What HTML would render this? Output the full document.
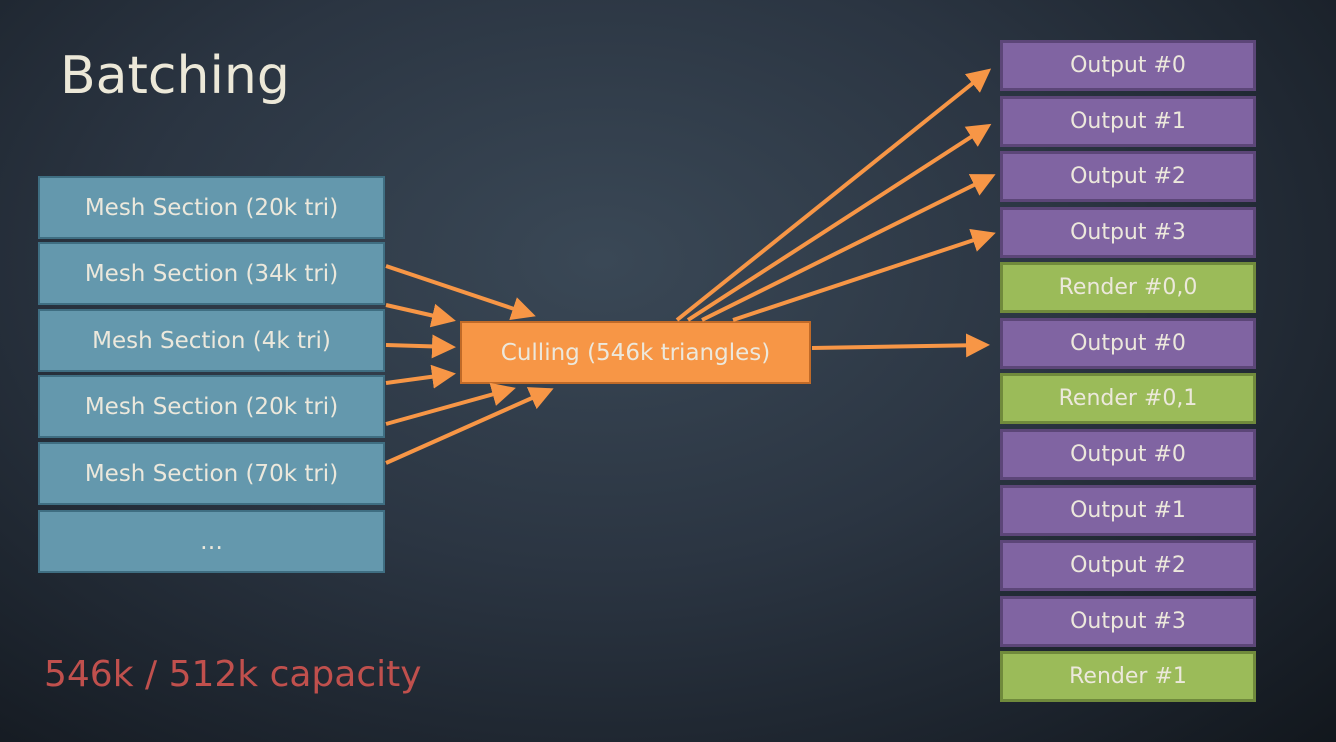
<!DOCTYPE html>
<html><head><style>
body{margin:0;width:1336px;height:742px;overflow:hidden;background:radial-gradient(ellipse at 45% 35%,#3a4856 0%,#2b3542 45%,#1b222b 80%,#12171d 100%);font-family:"DejaVu Sans","Liberation Sans",sans-serif;position:relative}
.b{position:absolute;box-sizing:border-box;color:#ece8dc;display:flex;align-items:center;justify-content:center;font-size:22px}
.m{left:38px;width:347px;height:63px;background:#6498ad;border:2px solid #3f6e82;font-size:23px}
.o{left:1000px;width:256px;height:51px;background:#8064a2;border:3px solid #5c4678}
.g{left:1000px;width:256px;height:51px;background:#9bbb59;border:3px solid #708a3c}
</style></head><body>
<div style="position:absolute;left:60px;top:46px;font-size:52px;color:#ece8d8">Batching</div>
<div style="position:absolute;left:44px;top:654px;font-size:36px;color:#c0504d">546k / 512k capacity</div>
<div class="b m" style="top:176px">Mesh Section (20k tri)</div>
<div class="b m" style="top:242px">Mesh Section (34k tri)</div>
<div class="b m" style="top:309px">Mesh Section (4k tri)</div>
<div class="b m" style="top:375px">Mesh Section (20k tri)</div>
<div class="b m" style="top:442px">Mesh Section (70k tri)</div>
<div class="b m" style="top:510px">…</div>
<div class="b" style="left:460px;top:321px;width:351px;height:63px;background:#f79646;border:2px solid #c06a28;font-size:23px">Culling (546k triangles)</div>
<div class="b o" style="top:40px">Output #0</div>
<div class="b o" style="top:96px">Output #1</div>
<div class="b o" style="top:151px">Output #2</div>
<div class="b o" style="top:207px">Output #3</div>
<div class="b g" style="top:262px">Render #0,0</div>
<div class="b o" style="top:318px">Output #0</div>
<div class="b g" style="top:373px">Render #0,1</div>
<div class="b o" style="top:429px">Output #0</div>
<div class="b o" style="top:485px">Output #1</div>
<div class="b o" style="top:540px">Output #2</div>
<div class="b o" style="top:596px">Output #3</div>
<div class="b g" style="top:651px">Render #1</div>
<svg width="1336" height="742" style="position:absolute;left:0;top:0">
<defs><marker id="a" markerWidth="6" markerHeight="6" refX="5" refY="3" orient="auto" markerUnits="strokeWidth"><path d="M0,0L6,3L0,6z" fill="#f79646"/></marker></defs>
<g stroke="#f79646" stroke-width="4" marker-end="url(#a)">
<line x1="386" y1="266" x2="532" y2="315"/>
<line x1="386" y1="305" x2="452" y2="320"/>
<line x1="386" y1="345" x2="452" y2="347"/>
<line x1="386" y1="383" x2="452" y2="374"/>
<line x1="386" y1="424" x2="512" y2="389"/>
<line x1="386" y1="463" x2="550" y2="390"/>
<line x1="677" y1="320" x2="988" y2="71"/>
<line x1="688" y1="320" x2="988" y2="126"/>
<line x1="702" y1="320" x2="992" y2="176"/>
<line x1="733" y1="320" x2="992" y2="234"/>
<line x1="812" y1="348" x2="986" y2="345"/>
</g></svg>
</body></html>
